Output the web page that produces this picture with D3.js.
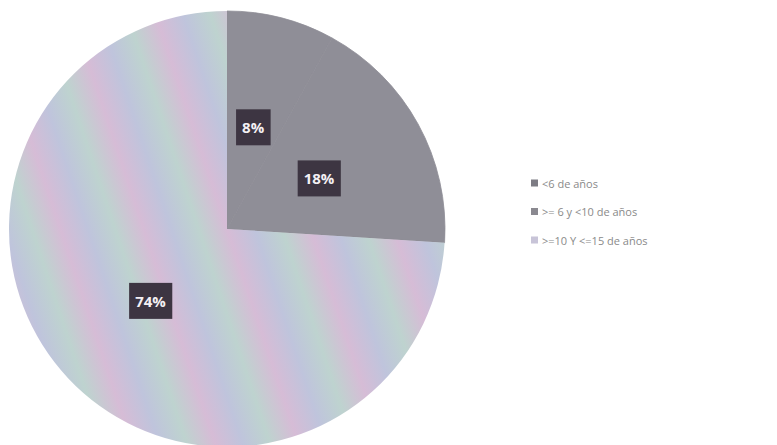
<!DOCTYPE html>
<html>
<head>
<meta charset="utf-8">
<script src="https://cdn.jsdelivr.net/npm/d3@7"></script>
<style>
  body { margin: 0; background: #fff; }
  svg { display: block; }
</style>
</head>
<body>
<div id="chart"></div>
<script>
const CATEGORIES = ["<6 de años", ">= 6 y <10 de años", ">=10 Y <=15 de años"];
const VALUES = [8, 18, 74];
const LABELS = ["8%", "18%", "74%"];

const W = 777, H = 445;
const cx = 227, cy = 229, r = 218;

const svg = d3.select("#chart").append("svg")
    .attr("width", W).attr("height", H);

// ── Pastel stripes for the big slice ──────────────────────────────────────
const defs = svg.append("defs");
const grad = defs.append("linearGradient")
    .attr("id", "pastel")
    .attr("gradientUnits", "userSpaceOnUse")
    .attr("x1", 0).attr("y1", 0).attr("x2", 75).attr("y2", -25)
    .attr("spreadMethod", "repeat");
[["0%", "#d6bcd6"], ["33%", "#bfc4dc"], ["66%", "#bed3cf"], ["100%", "#d6bcd6"]]
    .forEach(([o, c]) => grad.append("stop").attr("offset", o).attr("stop-color", c));

const fills = ["#8f8e97", "#8f8e97", "url(#pastel)"];
const legendFills = ["#7d7c84", "#8a8990", "#c8c4d8"];

const pie = d3.pie().sort(null).value(d => d)(VALUES);
const arc = d3.arc().innerRadius(0).outerRadius(r);
const labelArc = d3.arc().innerRadius(105).outerRadius(105);

const g = svg.append("g").attr("transform", `translate(${cx},${cy})`);

g.selectAll("path.slice")
    .data(pie)
    .join("path")
    .attr("class", "slice")
    .attr("d", arc)
    .attr("fill", (d, i) => fills[i])
    .attr("stroke", (d, i) => i < 2 ? fills[i] : "none")
    .attr("stroke-width", 0.8);

// ── Data labels (dark boxes) ───────────────────────────────────────────────
const lab = g.selectAll("g.lab")
    .data(pie)
    .join("g")
    .attr("class", "lab")
    .attr("transform", d => `translate(${labelArc.centroid(d)})`);

lab.each(function (d, i) {
    const sel = d3.select(this);
    const t = sel.append("text")
        .attr("text-anchor", "middle")
        .attr("dominant-baseline", "central")
        .attr("font-family", "Open Sans, sans-serif")
        .attr("font-weight", "bold")
        .attr("font-size", "15px")
        .attr("fill", "#f4f0f4")
        .text(LABELS[i]);
    const bb = t.node().getBBox();
    sel.insert("rect", "text")
        .attr("x", bb.x - 6).attr("y", bb.y - 8)
        .attr("width", bb.width + 12).attr("height", bb.height + 16)
        .attr("fill", "#3d3542");
});

// ── Legend ─────────────────────────────────────────────────────────────────
const legend = svg.append("g").attr("transform", "translate(531,183)");
const item = legend.selectAll("g")
    .data(CATEGORIES)
    .join("g")
    .attr("transform", (d, i) => `translate(0,${i * 28.5})`);

item.append("rect")
    .attr("x", 0).attr("y", -3.5)
    .attr("width", 7).attr("height", 7)
    .attr("fill", (d, i) => legendFills[i]);

item.append("text")
    .attr("x", 11).attr("y", 0)
    .attr("dominant-baseline", "central")
    .attr("font-family", "Open Sans, sans-serif")
    .attr("font-size", "11px")
    .attr("fill", "#8a8a8a")
    .text(d => d);
</script>
</body>
</html>
